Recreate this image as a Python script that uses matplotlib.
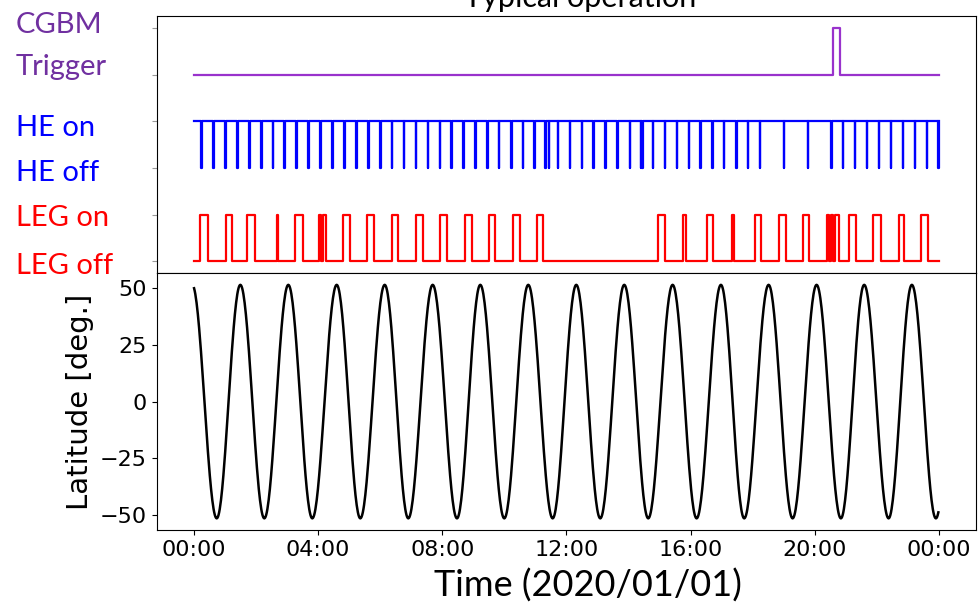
import matplotlib
matplotlib.use("Agg")
import matplotlib.pyplot as plt
import matplotlib.dates as mdates
from matplotlib.transforms import blended_transform_factory
import numpy as np

# hours after 2020-01-01 00:00
day_start = np.datetime64("2020-01-01T00:00")

# HE: short off pulses (start times, hours)
he_off_pulses = [0.226, 0.622, 0.999, 1.385, 1.772, 2.159, 2.535, 2.909, 3.296, 3.682,
                 4.069, 4.456, 4.842, 5.229, 5.606, 5.992, 6.369, 6.756, 7.142, 7.529,
                 7.916, 8.289, 8.676, 9.053, 9.440, 9.826, 10.213, 10.589, 10.963, 11.324,
                 11.437, 11.727, 12.113, 12.490, 12.864, 13.251, 13.637, 14.037, 14.401,
                 14.449, 14.778, 15.174, 15.551, 15.938, 16.311, 16.698, 17.065, 17.471,
                 17.848, 18.225, 18.998, 19.771, 20.532, 20.909, 21.286, 21.682, 22.068,
                 22.445, 22.832, 23.218, 23.605, 23.979]
he_pulse_width = 0.017

# LEG: on intervals (hours)
leg_on = [(0.203, 0.461), (1.031, 1.215), (1.707, 1.975), (2.674, 2.716), (3.254, 3.521),
          (4.037, 4.091), (4.146, 4.253), (4.810, 5.036), (5.574, 5.799), (6.369, 6.582),
          (7.152, 7.368), (7.925, 8.141), (8.731, 8.947), (9.494, 9.707), (10.287, 10.503),
          (11.050, 11.244), (14.958, 15.174), (15.744, 15.851), (16.527, 16.730),
          (17.323, 17.407), (18.073, 18.267), (18.857, 19.072), (19.610, 19.823),
          (20.393, 20.470), (20.540, 20.600), (20.640, 20.789), (21.112, 21.327),
          (21.865, 22.133), (22.703, 22.883), (23.421, 23.657)]

# CGBM trigger window (hours)
cgbm_on = [(20.59, 20.80)]

# latitude turning points of the orbit (hours, degrees)
lat_ext_times = [-0.06, 0.731, 1.492, 2.265, 3.038, 3.811, 4.597, 5.358, 6.144, 6.904,
                 7.690, 8.473, 9.224, 9.997, 10.770, 11.556, 12.317, 13.090, 13.863,
                 14.636, 15.422, 16.195, 16.978, 17.729, 18.515, 19.288, 20.061, 20.844,
                 21.595, 22.381, 23.131, 23.905, 24.680]
lat_ext_values = [51.6, -51.6] * 16 + [51.6]

state_labels = ["LEG off", "LEG on", "HE off", "HE on", "Trigger", "CGBM"]
label_colors = ["#ff0000", "#ff0000", "#0000ff", "#0000ff", "#7030a0", "#7030a0"]


def to_time(hours):
    return day_start + (np.asarray(hours) * 3600).astype("timedelta64[s]")


def step_series(intervals, rest, active):
    t, v = [0.0], [rest]
    for a, b in intervals:
        t += [a, b]
        v += [active, rest]
    t.append(24.0)
    v.append(rest)
    return to_time(t), v


# HE rests at "on" (3) and drops to "off" (2)
he_t, he_v = step_series([(p, p + he_pulse_width) for p in he_off_pulses], 3, 2)
leg_t, leg_v = step_series(leg_on, 0, 1)
cg_t, cg_v = step_series(cgbm_on, 4, 5)

# half-cosine arcs between turning points
lat_t, lat_v = [], []
for k in range(len(lat_ext_times) - 1):
    t0, t1 = lat_ext_times[k], lat_ext_times[k + 1]
    v0, v1 = lat_ext_values[k], lat_ext_values[k + 1]
    tt = np.linspace(t0, t1, 40)
    vv = (v0 + v1) / 2 + (v0 - v1) / 2 * np.cos(np.pi * (tt - t0) / (t1 - t0))
    lat_t.append(tt)
    lat_v.append(vv)
lat_t = np.concatenate(lat_t)
lat_v = np.concatenate(lat_v)
keep = (lat_t >= 0) & (lat_t <= 24)
lat_t, lat_v = lat_t[keep], lat_v[keep]

plt.rcParams["font.size"] = 16
fig = plt.figure(figsize=(9.8, 6.03), dpi=100)
ax1 = fig.add_axes([0.160, 0.547, 0.836, 0.426])
ax2 = fig.add_axes([0.160, 0.121, 0.836, 0.426], sharex=ax1)

ax1.plot(cg_t, cg_v, drawstyle="steps-post", color="#9932cc", lw=1.6)
ax1.plot(he_t, he_v, drawstyle="steps-post", color="blue", lw=1.6)
ax1.plot(leg_t, leg_v, drawstyle="steps-post", color="red", lw=1.6)
ax1.set_yticks(range(6))
ax1.set_yticklabels([])
ax1.tick_params(axis="x", bottom=False, labelbottom=False)
ax1.tick_params(axis="y", color="#999999")

trans = blended_transform_factory(fig.transFigure, ax1.transData)
label_y = [-0.09, 0.94, 1.90, 2.86, 4.17, 5.06]
for name, col, y in zip(state_labels, label_colors, label_y):
    ax1.text(0.016, y, name, transform=trans, color=col, fontsize=21,
             family="Lato", ha="left", va="center", clip_on=False)

ax2.plot(to_time(lat_t), lat_v, color="black", lw=1.8)
ax2.set_yticks([-50, -25, 0, 25, 50])
ax2.set_ylabel("Latitude [deg.]", fontsize=21)
ax2.xaxis.set_major_locator(mdates.HourLocator(byhour=range(0, 24, 4)))
ax2.xaxis.set_major_formatter(mdates.DateFormatter("%H:%M"))

fig.text(0.600, 0.010, "Time (2020/01/01)", family="Lato", fontsize=26,
         ha="center", va="baseline")
fig.text(0.592, 1 - 7 / 603, "Typical operation", family="Lato", fontsize=22,
         ha="center", va="baseline")

fig.savefig("out.png", dpi=100)
